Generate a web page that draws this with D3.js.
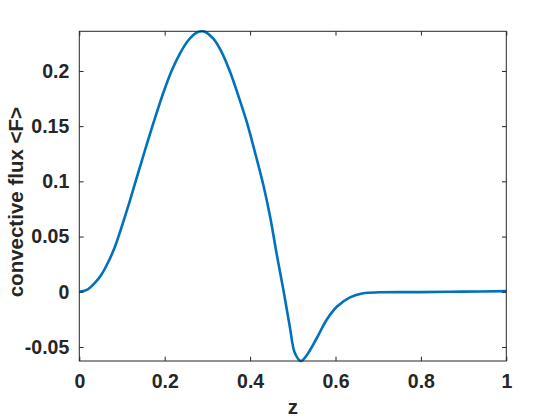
<!DOCTYPE html>
<html>
<head>
<meta charset="utf-8">
<script src="https://cdn.jsdelivr.net/npm/d3@7"></script>
<style>
  body { margin: 0; background: #fff; }
  svg { display: block; font-family: "Liberation Sans", Arial, sans-serif; font-weight: bold; }
</style>
</head>
<body>
<svg id="mainSVG"></svg>
<script>
// values
let zVals = [0, 0.020, 0.036, 0.052, 0.067, 0.083, 0.098, 0.114, 0.130, 0.149, 0.158, 0.177, 0.197,
    0.216, 0.236, 0.255, 0.275, 0.287, 0.294, 0.314, 0.333, 0.353, 0.372, 0.392, 0.411, 0.431,
    0.447, 0.462, 0.478, 0.493, 0.505, 0.519, 0.533, 0.556, 0.579, 0.603, 0.634, 0.665, 0.703,
    0.8, 0.9, 1.0]
let fluxVals = [0, 0.0022, 0.0078, 0.0157, 0.0263, 0.0403, 0.0573, 0.0768, 0.0975, 0.1220, 0.1334, 0.1570, 0.1805,
    0.2000, 0.2160, 0.2276, 0.2347, 0.2359, 0.2355, 0.2293, 0.2173, 0.1993, 0.1781, 0.1540, 0.1269, 0.0967,
    0.0678, 0.0347, 0.0015, -0.0316, -0.0557, -0.0627, -0.0572, -0.0421, -0.0256, -0.0136, -0.0051, -0.0014, -0.0005,
    -0.0003, 0.0001, 0.0006]
let xTicks = [0, 0.2, 0.4, 0.6, 0.8, 1]
let yTicks = [-0.05, 0, 0.05, 0.1, 0.15, 0.2]

let w = 560, h = 420
let m = {t: 31.3, r: 560 - 506.3, b: 420 - 361, l: 79.3}
let axisColor = '#262626'

let svg = d3.select('#mainSVG').attr('width', w).attr('height', h)

let data = zVals.map((z, i) => ({z: z, f: fluxVals[i]}))

let x = d3.scaleLinear()
    .domain([0, 1])
    .range([m.l, w - m.r])

// tight limits, like matlab axis tight
let y = d3.scaleLinear()
    .domain(d3.extent(fluxVals))
    .range([h - m.b, m.t])

let tickLen = 4.3
let fmt = d => String(d)

// line first, axes box on top
svg.append('path')
    .datum(data)
    .attr('fill', 'none')
    .attr('stroke', '#0072BD')
    .attr('stroke-width', 2.6)
    .attr('stroke-linejoin', 'round')
    .attr('d', d3.line().x(d => x(d.z)).y(d => y(d.f)).curve(d3.curveCatmullRom.alpha(0.5)))

// bottom axis, ticks point inward
let xAxis = svg.append('g')
    .attr('transform', `translate(0, ${h - m.b})`)
    .call(d3.axisBottom(x).tickValues(xTicks).tickFormat(fmt).tickSizeInner(-tickLen).tickSizeOuter(0).tickPadding(13))
xAxis.selectAll('text').attr('font-size', 19.5).attr('fill', axisColor).attr('font-family', null)

// top ticks
svg.append('g')
    .attr('transform', `translate(0, ${m.t})`)
    .call(d3.axisTop(x).tickValues(xTicks).tickFormat('').tickSizeInner(-tickLen).tickSizeOuter(0))

// left axis
let yAxis = svg.append('g')
    .attr('transform', `translate(${m.l}, 0)`)
    .call(d3.axisLeft(y).tickValues(yTicks).tickFormat(fmt).tickSizeInner(-tickLen).tickSizeOuter(0).tickPadding(10))
yAxis.selectAll('text').attr('font-size', 19.5).attr('fill', axisColor).attr('font-family', null)

// right ticks
svg.append('g')
    .attr('transform', `translate(${w - m.r}, 0)`)
    .call(d3.axisRight(y).tickValues(yTicks).tickFormat('').tickSizeInner(-tickLen).tickSizeOuter(0))

svg.selectAll('.domain').remove()
svg.selectAll('.tick line').attr('stroke', axisColor)

// box
svg.append('rect')
    .attr('x', m.l)
    .attr('y', m.t)
    .attr('width', w - m.l - m.r)
    .attr('height', h - m.t - m.b)
    .attr('fill', 'none')
    .attr('stroke', axisColor)
    .attr('stroke-width', 1)

// axis labels
svg.append('text')
    .attr('x', (m.l + w - m.r) / 2)
    .attr('y', 414)
    .attr('text-anchor', 'middle')
    .attr('font-size', 20.5)
    .attr('fill', axisColor)
    .text('z')

svg.append('text')
    .attr('transform', `translate(23, ${(m.t + h - m.b) / 2 + 6}) rotate(-90)`)
    .attr('text-anchor', 'middle')
    .attr('font-size', 20.5)
    .attr('fill', axisColor)
    .text('convective flux <F>')
</script>
</body>
</html>
